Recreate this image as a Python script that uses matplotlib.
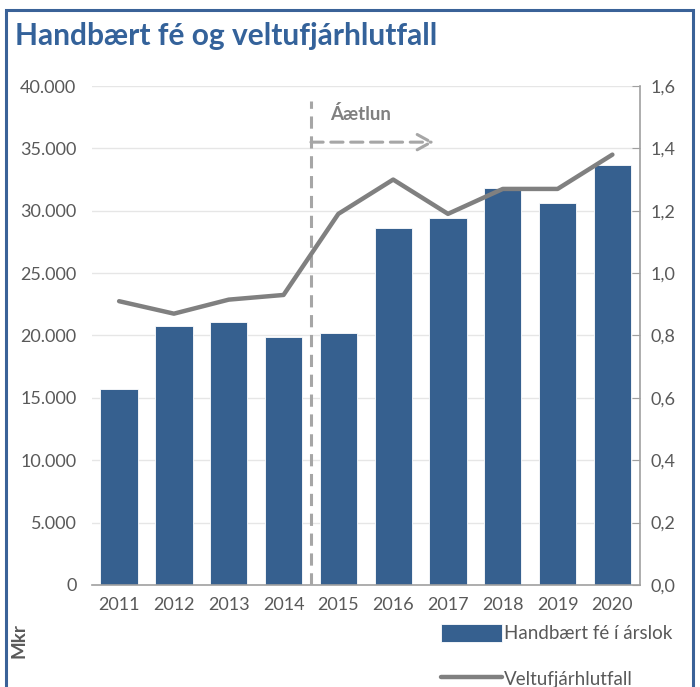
import matplotlib
matplotlib.use("Agg")
import matplotlib.pyplot as plt
from matplotlib.patches import Rectangle
from matplotlib.ticker import FuncFormatter

# data
years = ["2011", "2012", "2013", "2014", "2015", "2016", "2017", "2018", "2019", "2020"]
cash = [15700, 20800, 21100, 19900, 20200, 28600, 29400, 31800, 30650, 33700]
ratio = [0.91, 0.87, 0.915, 0.93, 1.19, 1.30, 1.19, 1.27, 1.27, 1.38]

blue = "#36608f"
grey = "#808080"
txt = "#595959"

plt.rcParams["font.family"] = ["Lato", "DejaVu Sans"]

fig = plt.figure(figsize=(7.0, 6.87), dpi=100)
ax = fig.add_axes([0.131, 0.1485, 0.783, 0.7263])
ax2 = ax.twinx()

x = list(range(len(years)))

# bars
ax.bar(x, cash, width=0.68, color=blue, edgecolor="white", linewidth=0.6,
       label="Handbært fé í árslok", zorder=2)
ax.set_ylim(0, 40000)
ax.set_xlim(-0.5, 9.5)
ax.set_yticks(range(0, 40001, 5000))
ax.yaxis.set_major_formatter(FuncFormatter(lambda v, p: f"{int(v):,}".replace(",", ".")))
ax.grid(axis="y", color="#e6e6e6", linewidth=1, zorder=0)
ax.set_axisbelow(True)
ax.set_xticks(x)
ax.set_xticklabels(years)
ax.tick_params(axis="both", length=0, labelsize=13, colors=txt, pad=9)
ax.tick_params(axis="y", pad=11)
for s in ["top", "left", "right"]:
    ax.spines[s].set_visible(False)
ax.spines["bottom"].set_color("#a0a0a0")
ax.spines["bottom"].set_linewidth(1.2)

# ratio line
ax2.plot(x, ratio, color=grey, linewidth=3.2, solid_capstyle="round",
         label="Veltufjárhlutfall", zorder=3)
ax2.set_ylim(0, 1.6)
ax2.set_yticks([i / 10 for i in range(0, 17, 2)])
ax2.yaxis.set_major_formatter(FuncFormatter(lambda v, p: f"{v:.1f}".replace(".", ",")))
ax2.tick_params(axis="y", direction="in", length=6, color="#a0a0a0",
                labelsize=13, labelcolor=txt, pad=8)
for s in ["top", "left", "bottom"]:
    ax2.spines[s].set_visible(False)
ax2.spines["right"].set_color("#a0a0a0")
ax2.spines["right"].set_linewidth(1.2)

# forecast marker
ax.axvline(3.5, ymin=0, ymax=0.97, color="#a6a6a6", linewidth=2.2,
           linestyle=(0, (4, 2.5)), zorder=4)
ax.annotate("", xy=(5.75, 35500), xytext=(3.5, 35500),
            arrowprops=dict(arrowstyle="->,head_length=1.0,head_width=0.55",
                            color="#a6a6a6", linewidth=2.2,
                            linestyle=(0, (4, 2.5)), shrinkA=0, shrinkB=0),
            zorder=4)
ax.text(3.85, 37000, "Áætlun", color=grey, fontsize=13.5, fontweight="bold",
        ha="left", va="bottom")

# title and unit label
fig.text(0.022, 0.947, "Handbært fé og veltufjárhlutfall", color="#34629a",
         fontsize=21.5, fontweight="bold", ha="left", va="center")
fig.text(0.027, 0.067, "Mkr", color=txt, fontsize=13.5, fontweight="bold",
         rotation=90, ha="center", va="center")

# legend
h1, l1 = ax.get_legend_handles_labels()
h2, l2 = ax2.get_legend_handles_labels()
leg = fig.legend(h1 + h2, l1 + l2, loc="lower right", bbox_to_anchor=(0.985, -0.026),
                 frameon=False, fontsize=13.5, handlelength=3.3, handleheight=1.1,
                 handletextpad=0.1, labelspacing=1.45)
for t in leg.get_texts():
    t.set_color(txt)

# border around figure
fig.patches.append(Rectangle((0.008, -0.01), 0.982, 0.995, transform=fig.transFigure,
                             fill=False, edgecolor="#3a6298", linewidth=2.2))

fig.savefig("out.png", dpi=100)
